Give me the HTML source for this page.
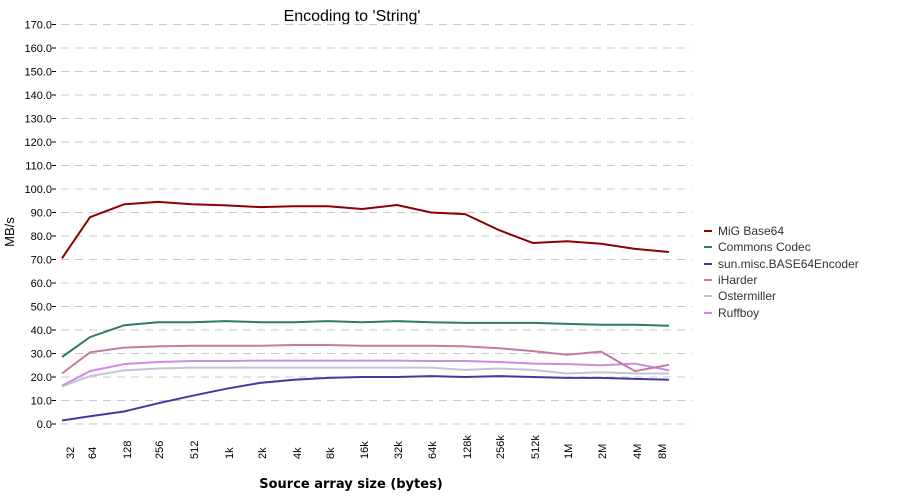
<!DOCTYPE html>
<html><head><meta charset="utf-8"><style>
html,body{margin:0;padding:0;background:#fff;}
svg{display:block;font-family:"Liberation Sans","DejaVu Sans",sans-serif;}
</style></head><body>
<svg id="c" width="900" height="499" viewBox="0 0 900 499" xmlns="http://www.w3.org/2000/svg">
<text x="352" y="21" font-size="16" text-anchor="middle" fill="#000">Encoding to 'String'</text>
<text transform="translate(14,232) rotate(-90)" font-size="13" text-anchor="middle" fill="#000">MB/s</text>
<text x="351" y="488" font-size="13" font-weight="bold" text-anchor="middle" fill="#000" font-family="DejaVu Sans, sans-serif">Source array size (bytes)</text>
<g id="grid"></g>
<g id="xl" font-size="11" fill="#000"></g>
<g id="series" fill="none" stroke-width="2"></g>
<g font-size="12" fill="#333">
<line x1="704" y1="231" x2="712" y2="231" stroke="#8b0000" stroke-width="2"/><text x="718" y="235">MiG Base64</text>
<line x1="704" y1="247" x2="712" y2="247" stroke="#2e7d55" stroke-width="2"/><text x="718" y="251">Commons Codec</text>
<line x1="704" y1="264" x2="712" y2="264" stroke="#4b36a0" stroke-width="2"/><text x="718" y="268">sun.misc.BASE64Encoder</text>
<line x1="704" y1="280" x2="712" y2="280" stroke="#c47aa4" stroke-width="2"/><text x="718" y="284">iHarder</text>
<line x1="704" y1="296" x2="712" y2="296" stroke="#c4c4d8" stroke-width="2"/><text x="718" y="300">Ostermiller</text>
<line x1="704" y1="313" x2="712" y2="313" stroke="#d08be0" stroke-width="2"/><text x="718" y="317">Ruffboy</text>
</g>
</svg>
<script>
var NS="http://www.w3.org/2000/svg";
function el(p,t,a){var e=document.createElementNS(NS,t);for(var k in a)e.setAttribute(k,a[k]);p.appendChild(e);return e;}
function Y(v){return 424-v*2.35;}
var g=document.getElementById('grid');
for(var i=0;i<=17;i++){var y=Y(i*10);
 el(g,'line',{x1:61,x2:692,y1:y,y2:y,stroke:'#c8c8c8','stroke-dasharray':'8,6'});
 el(g,'line',{x1:52,x2:56,y1:y,y2:y,stroke:'#000'});
 var t=el(g,'text',{x:52,y:y+4,'font-size':11,'text-anchor':'end',fill:'#000'});t.textContent=(i*10)+'.0';}
var labs=['32','64','128','256','512','1k','2k','4k','8k','16k','32k','64k','128k','256k','512k','1M','2M','4M','8M'];
var lx=[70,92,127,159,194,229,262,297,330,364,398,432,467,500,535,568,602,637,662];
var xl=document.getElementById('xl');
labs.forEach(function(l,i){var t=el(xl,'text',{transform:'translate('+(lx[i]+4)+',459) rotate(-90)'});t.textContent=l;});
var px=[62,90,124,158,192,226,260,294,328,362,397,431,465,499,533,567,601,635,669];
var S=[
['#8b0000',[70.5,88,93.5,94.5,93.5,93,92.3,92.7,92.7,91.5,93.2,90,89.3,82.5,77,77.8,76.7,74.5,73.2]],
['#2e7d55',[28.5,37,42,43.3,43.3,43.8,43.3,43.3,43.8,43.3,43.8,43.3,43,43,43,42.6,42.2,42.2,41.8]],
['#c4c4d8',[16,20.4,22.8,23.6,24,24,24,24,24,24,24,24,23,23.6,23,21.5,22,21.5,21.5]],
['#d08be0',[16.3,22.5,25.5,26.4,26.8,26.8,27,27,27,27,27,26.8,26.8,26.4,25.7,25.5,25,25.7,22.8]],
['#c47aa4',[21.5,30.5,32.5,33,33.3,33.3,33.3,33.6,33.6,33.3,33.3,33.3,33,32.2,31,29.5,30.8,22.5,25.2]],
['#4b36a0',[1.5,3.3,5.3,8.8,12,15,17.5,18.8,19.6,20,20,20.4,20,20.4,20,19.6,19.6,19.2,18.8]]];
var sg=document.getElementById('series');
S.forEach(function(s){el(sg,'polyline',{stroke:s[0],points:s[1].map(function(v,i){return px[i]+','+Y(v).toFixed(1);}).join(' ')});});
</script>
</body></html>
